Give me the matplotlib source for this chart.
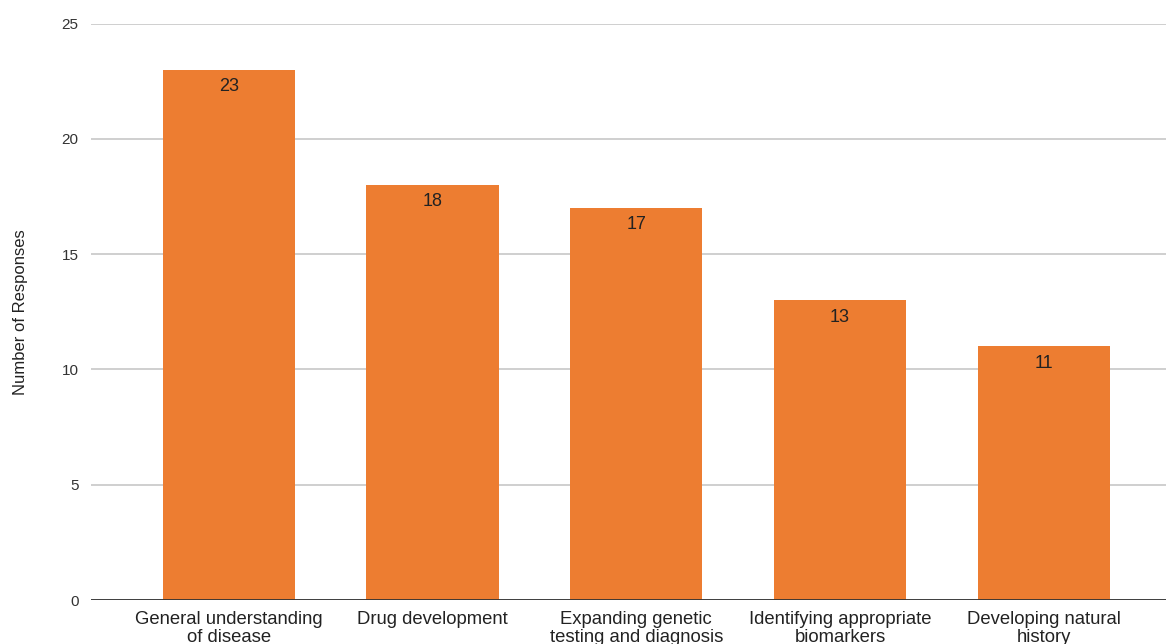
import matplotlib
matplotlib.use("Agg")
import matplotlib.pyplot as plt

plt.rcParams['font.family'] = ['Liberation Sans', 'DejaVu Sans']

categories = ["General understanding\nof disease", "Drug development",
              "Expanding genetic\ntesting and diagnosis",
              "Identifying appropriate\nbiomarkers", "Developing natural\nhistory"]
responses = [23, 18, 17, 13, 11]
y_ticks = [0, 5, 10, 15, 20, 25]

bar_color = '#ED7D31'

fig = plt.figure(figsize=(11.66, 6.44), dpi=100)
ax = fig.add_axes([91 / 1166, 44 / 644, 1 - 91 / 1166, 576.5 / 644])

x = range(len(categories))
bars = ax.bar(x, responses, width=0.65, color=bar_color, zorder=3)

for i, v in enumerate(responses):
    ax.annotate(str(v), (i, v), xytext=(0, -6), textcoords='offset points',
                ha='center', va='top', fontsize=13, color='#222222', zorder=4)

ax.set_xlim(-0.676, 4.60)
ax.set_ylim(0, 25)
ax.set_yticks(y_ticks)
ax.set_xticks(list(x))
ax.set_xticklabels(categories, fontsize=13.3, color='#222222', linespacing=1.05)
ax.tick_params(axis='x', length=0, pad=8)
ax.tick_params(axis='y', length=0, pad=9, labelsize=11, labelcolor='#333333')

ax.grid(axis='y', color='#cccccc', linewidth=1.3, zorder=0)
ax.axhline(0, color='#333333', linewidth=1.3, zorder=5)
for s in ax.spines.values():
    s.set_visible(False)

ax.set_ylabel("Number of Responses", fontsize=12, color='#222222', labelpad=24)

fig.savefig("out.png", dpi=100)
